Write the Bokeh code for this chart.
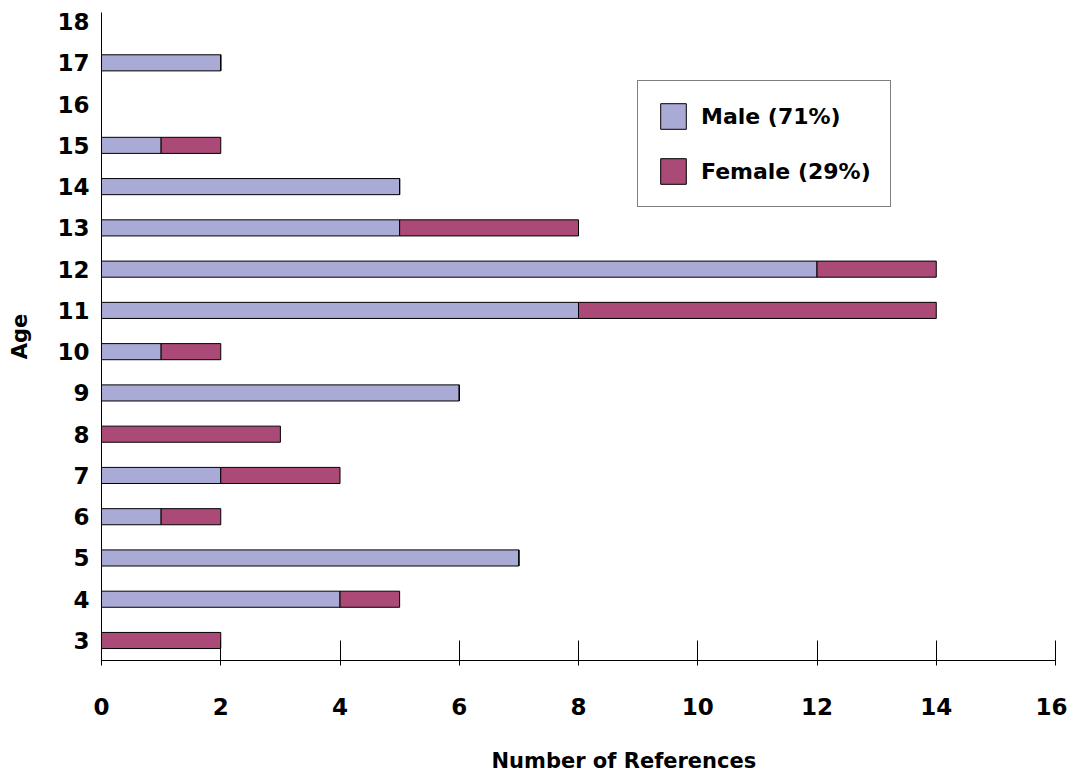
from bokeh.plotting import figure
from bokeh.models import ColumnDataSource, Range1d, FixedTicker, Title, Legend, LegendItem
from bokeh.embed import file_html
from bokeh.resources import INLINE

ages = [3, 4, 5, 6, 7, 8, 9, 10, 11, 12, 13, 14, 15, 16, 17, 18]
male = [0, 4, 7, 1, 2, 0, 6, 1, 8, 12, 5, 5, 1, 0, 2, 0]
female = [2, 1, 0, 1, 2, 3, 0, 1, 6, 2, 3, 0, 1, 0, 0, 0]
x_ticks = [0, 2, 4, 6, 8, 10, 12, 14, 16]
series_labels = ["Male (71%)", "Female (29%)"]
male_color = "#AAAAD6"
female_color = "#AB4A76"

src = ColumnDataSource(dict(age=ages, male=male, female=female))

FONT = "DejaVu Sans"

p = figure(frame_width=954, frame_height=648, output_backend="svg", toolbar_location=None,
           x_range=Range1d(0, 16), y_range=Range1d(2.515, 18.22),
           min_border_left=101, min_border_right=12, min_border_top=12, min_border_bottom=110)

rs = p.hbar_stack(["male", "female"], y="age", height=0.39, source=src,
                  color=[male_color, female_color], line_color="black", line_width=1)

p.xgrid.visible = False
p.ygrid.visible = False
p.outline_line_color = None
p.background_fill_color = "white"
p.border_fill_color = "white"

xa = p.xaxis[0]
xa.ticker = FixedTicker(ticks=x_ticks)
xa.major_tick_in = 20
xa.major_tick_out = 5
xa.minor_tick_line_color = None
xa.major_label_standoff = 32
xa.major_label_text_font = FONT
xa.major_label_text_font_style = "bold"
xa.major_label_text_font_size = "23px"
xa.major_label_text_color = "black"
xa.axis_line_color = "black"
xa.major_tick_line_color = "black"

ya = p.yaxis[0]
ya.ticker = FixedTicker(ticks=ages)
ya.major_tick_in = 0
ya.major_tick_out = 0
ya.minor_tick_line_color = None
ya.major_label_standoff = 12
ya.major_label_text_font = FONT
ya.major_label_text_font_style = "bold"
ya.major_label_text_font_size = "23px"
ya.major_label_text_color = "black"
ya.axis_line_color = "black"
ya.axis_label = "Age"
ya.axis_label_text_font = FONT
ya.axis_label_text_font_style = "bold"
ya.axis_label_text_font_size = "21px"
ya.axis_label_text_color = "black"
ya.axis_label_standoff = 22

t = Title(text="Number of References", align="left", offset=390,
          text_font=FONT, text_font_style="bold", text_font_size="21px",
          text_color="black", standoff=58)
p.add_layout(t, "below")

legend = Legend(items=[LegendItem(label=series_labels[0], renderers=[rs[0]]),
                       LegendItem(label=series_labels[1], renderers=[rs[1]])],
                location=(536, 453), glyph_width=32, glyph_height=32,
                spacing=23, padding=19, margin=0, label_standoff=12,
                label_text_font=FONT, label_text_font_style="bold",
                label_text_font_size="22px", label_text_color="black",
                border_line_color="black",
                border_line_width=1, background_fill_alpha=1.0)
p.add_layout(legend)

open("out.html", "w").write(file_html(p, INLINE))
